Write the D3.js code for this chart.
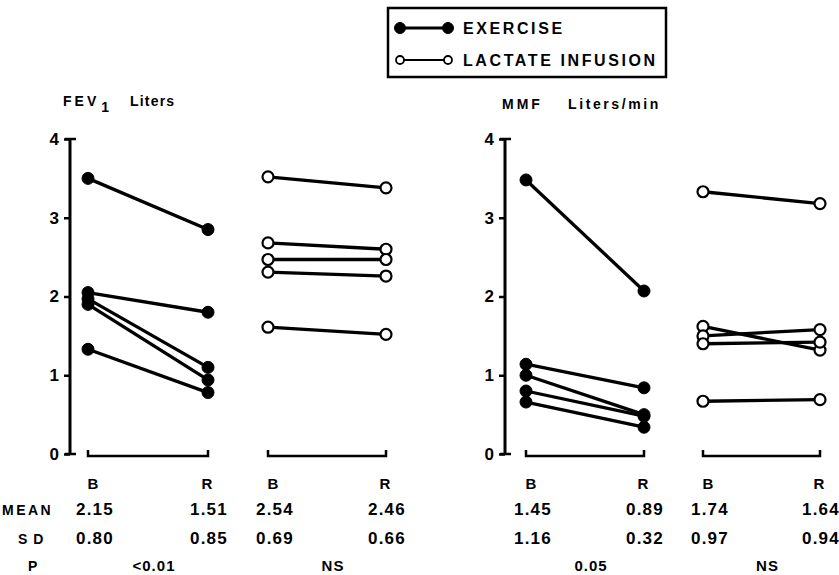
<!DOCTYPE html>
<html>
<head>
<meta charset="utf-8">
<script src="https://cdn.jsdelivr.net/npm/d3@7"></script>
<style>
  html, body { margin: 0; padding: 0; background: #fff; }
  svg { display: block; font-family: "Liberation Sans", Arial, Helvetica, sans-serif; font-weight: bold; }
</style>
</head>
<body>
<svg id="chart" width="839" height="575"></svg>
<script>
// ---- Data ----
const phases = ["B", "R"];
const yTicks = [0, 1, 2, 3, 4];
const rowLabels = ["MEAN", "S D", "P"];

// FEV1 (Liters)
const fevExerciseB = [3.50, 2.05, 1.97, 1.90, 1.33];
const fevExerciseR = [2.85, 1.80, 1.10, 0.94, 0.78];
const fevLactateB  = [3.52, 2.68, 2.47, 2.31, 1.61];
const fevLactateR  = [3.38, 2.60, 2.47, 2.26, 1.52];

// MMF (Liters/min)
const mmfExerciseB = [3.48, 1.14, 1.00, 0.80, 0.66];
const mmfExerciseR = [2.07, 0.84, 0.50, 0.48, 0.34];
const mmfLactateB  = [3.33, 1.62, 1.50, 1.40, 0.67];
const mmfLactateR  = [3.18, 1.32, 1.58, 1.42, 0.69];

// Summary statistics
const fevMean = ["2.15", "1.51", "2.54", "2.46"];
const fevSD   = ["0.80", "0.85", "0.69", "0.66"];
const fevP    = ["<0.01", "NS"];
const mmfMean = ["1.45", "0.89", "1.74", "1.64"];
const mmfSD   = ["1.16", "0.32", "0.97", "0.94"];
const mmfP    = ["0.05", "NS"];

const legendLabels = ["EXERCISE", "LACTATE INFUSION"];

// ---- Drawing ----
const svg = d3.select("#chart");
const y = d3.scaleLinear().domain([0, 4]).range([454, 139]);
const labelShift = { B: 5, R: -1 };

function drawPanel(cfg) {
  const g = svg.append("g");
  const axis = d3.axisLeft(y).tickValues(yTicks).tickSize(6).tickPadding(5).tickFormat(d3.format("d"));
  const ax = g.append("g").attr("transform", `translate(${cfg.axisX},0)`).call(axis);
  ax.select(".domain").attr("stroke", "#000").attr("stroke-width", 3)
    .attr("d", `M0,${y(4)}V${y(0)}`);
  ax.selectAll(".tick line").attr("stroke", "#000").attr("stroke-width", 2.5);
  ax.selectAll(".tick text").attr("font-size", 17).attr("font-weight", "bold")
    .attr("font-family", "Liberation Sans, Arial, sans-serif").attr("fill", "#000");
  [0, 4].forEach(v => {
    g.append("line").attr("x1", cfg.axisX - 5).attr("x2", cfg.axisX + 6)
      .attr("y1", y(v)).attr("y2", y(v)).attr("stroke", "#000").attr("stroke-width", 2.5);
  });

  cfg.title(g);

  cfg.groups.forEach((grp, gi) => {
    const x = d3.scalePoint().domain(phases).range(grp.range);
    const by = 456;
    g.append("path")
      .attr("d", `M${x("B")},${by - 6}V${by}H${x("R")}V${by - 6}`)
      .attr("fill", "none").attr("stroke", "#000").attr("stroke-width", 2.5);
    grp.b.forEach((bv, i) => {
      g.append("line")
        .attr("x1", x("B")).attr("y1", y(bv))
        .attr("x2", x("R")).attr("y2", y(grp.r[i]))
        .attr("stroke", "#000").attr("stroke-width", 3.3);
    });
    grp.b.forEach((bv, i) => {
      [["B", bv], ["R", grp.r[i]]].forEach(([p, v]) => {
        g.append("circle").attr("cx", x(p)).attr("cy", y(v))
          .attr("r", grp.filled ? 6 : 5.5)
          .attr("fill", grp.filled ? "#000" : "#fff")
          .attr("stroke", "#000").attr("stroke-width", grp.filled ? 1 : 2.2);
      });
    });
    phases.forEach(p => {
      g.append("text").attr("x", x(p) + labelShift[p]).attr("y", 489).attr("text-anchor", "middle")
        .attr("font-size", 15).text(p);
    });
    phases.forEach((p, pi) => {
      g.append("text").attr("x", x(p) + labelShift[p] + 2).attr("y", 515).attr("text-anchor", "middle")
        .attr("font-size", 17).attr("letter-spacing", 1.2).text(cfg.mean[gi * 2 + pi]);
      g.append("text").attr("x", x(p) + labelShift[p] + 2).attr("y", 544).attr("text-anchor", "middle")
        .attr("font-size", 17).attr("letter-spacing", 1.2).text(cfg.sd[gi * 2 + pi]);
    });
    g.append("text").attr("x", (x("B") + x("R")) / 2 + 6).attr("y", 571)
      .attr("text-anchor", "middle").attr("font-size", 15).attr("letter-spacing", 1)
      .text(cfg.p[gi]);
  });
}

drawPanel({
  axisX: 70,
  groups: [
    { range: [88, 208], b: fevExerciseB, r: fevExerciseR, filled: true },
    { range: [268, 386], b: fevLactateB, r: fevLactateR, filled: false }
  ],
  mean: fevMean, sd: fevSD, p: fevP,
  title: g => {
    const t = g.append("text").attr("x", 63).attr("y", 106).attr("font-size", 14);
    t.append("tspan").attr("letter-spacing", 3).text("FEV");
    t.append("tspan").attr("dx", 2).attr("dy", 6).text("1");
    g.append("text").attr("x", 130).attr("y", 106).attr("font-size", 14)
      .attr("letter-spacing", 1.2).text("Liters");
  }
});

drawPanel({
  axisX: 505,
  groups: [
    { range: [526, 644], b: mmfExerciseB, r: mmfExerciseR, filled: true },
    { range: [703, 820], b: mmfLactateB, r: mmfLactateR, filled: false }
  ],
  mean: mmfMean, sd: mmfSD, p: mmfP,
  title: g => {
    g.append("text").attr("x", 502).attr("y", 109).attr("font-size", 14)
      .attr("letter-spacing", 3).text("MMF");
    g.append("text").attr("x", 568).attr("y", 109).attr("font-size", 14)
      .attr("letter-spacing", 2.6).text("Liters/min");
  }
});

svg.append("text").attr("x", 2).attr("y", 515).attr("font-size", 14)
  .attr("letter-spacing", 2.5).text(rowLabels[0]);
svg.append("text").attr("x", 18).attr("y", 544).attr("font-size", 14)
  .attr("letter-spacing", 1).attr("xml:space", "preserve").text(rowLabels[1]);
svg.append("text").attr("x", 28).attr("y", 571).attr("font-size", 14).text(rowLabels[2]);

const lg = svg.append("g");
lg.append("rect").attr("x", 388).attr("y", 8).attr("width", 278).attr("height", 69)
  .attr("fill", "none").attr("stroke", "#000").attr("stroke-width", 2.5);
legendLabels.forEach((lab, i) => {
  const ly = 28 + i * 32;
  const filled = i === 0;
  lg.append("line").attr("x1", 400).attr("x2", 448).attr("y1", ly).attr("y2", ly)
    .attr("stroke", "#000").attr("stroke-width", filled ? 3 : 2);
  [400, 448].forEach(cx => {
    lg.append("circle").attr("cx", cx).attr("cy", ly).attr("r", filled ? 5.5 : 4)
      .attr("fill", filled ? "#000" : "#fff").attr("stroke", "#000").attr("stroke-width", filled ? 1 : 1.8);
  });
  lg.append("text").attr("x", 463).attr("y", ly + 6).attr("font-size", 16)
    .attr("letter-spacing", 2.6).text(lab);
});
</script>
</body>
</html>
